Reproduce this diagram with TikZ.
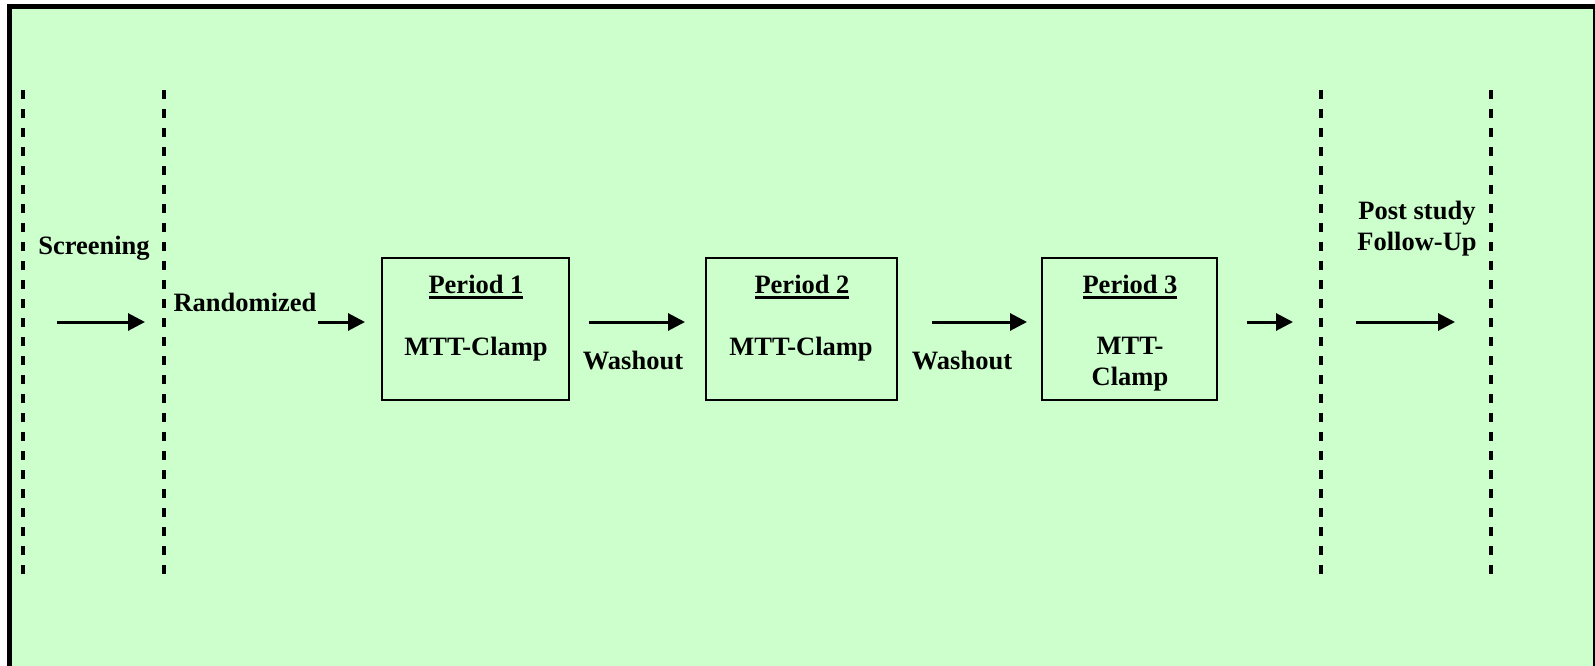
\documentclass[tikz,border=0pt]{standalone}
\usepackage{fontspec}
\setmainfont{Liberation Serif}
\usetikzlibrary{arrows.meta}
\newcommand{\myul}[1]{\setbox0\hbox{#1}\rlap{\rule[-5pt]{\wd0}{2.6pt}}\box0}
\begin{document}
\begin{tikzpicture}[x=1pt,y=-1pt,
  lbl/.style={font=\fontsize{26.5}{31}\selectfont\bfseries, inner sep=0pt, align=center},
  periodbox/.style={draw=black, line width=2pt, inner sep=0pt, fill=none},
  divider/.style={line width=3.2pt, dash pattern=on 9pt off 10pt},
  flow/.style={line width=3pt, -{Triangle[length=17pt,width=17pt]}}]
\useasboundingbox (0,0) rectangle (1595,666);
\fill[white] (0,0) rectangle (1595,666);
\draw[line width=5pt, fill={rgb,255:red,204;green,255;blue,204}] (9,6.5) rectangle (1595.5,700);
% dividers
\coordinate (d1t) at (23,90);  \coordinate (d1b) at (23,580);
\coordinate (d2t) at (164,90); \coordinate (d2b) at (164,580);
\coordinate (d3t) at (1321,90); \coordinate (d3b) at (1321,580);
\coordinate (d4t) at (1491,90); \coordinate (d4b) at (1491,580);
\draw[divider] (d1t) -- (d1b);
\draw[divider] (d2t) -- (d2b);
\draw[divider] (d3t) -- (d3b);
\draw[divider] (d4t) -- (d4b);
% boxes
\node[periodbox, minimum width=187pt, minimum height=142pt] (p1) at (475.5,329) {};
\node[periodbox, minimum width=191pt, minimum height=142pt] (p2) at (801.5,329) {};
\node[periodbox, minimum width=175pt, minimum height=142pt] (p3) at (1129.5,329) {};
\node[lbl] (p1t) at (476,287) {\myul{Period 1}};
\node[lbl] (p1c) at (476,349) {MTT-Clamp};
\node[lbl] (p2t) at (802,287) {\myul{Period 2}};
\node[lbl] (p2c) at (801,349) {MTT-Clamp};
\node[lbl] (p3t) at (1130,287) {\myul{Period 3}};
\node[lbl] (p3c) at (1130,364) {MTT-\\Clamp};
% labels
\node[lbl] (scr) at (94,248) {Screening};
\node[lbl] (rand) at (245,302) {Randomized};
\node[lbl] (w1) at (633,361) {Washout};
\node[lbl] (w2) at (962,361) {Washout};
\node[lbl] (post) at (1417,229) {Post study\\Follow-Up};
% arrows
\coordinate (a1s) at (57,322);  \coordinate (a1e) at (145,322);
\coordinate (a2s) at (318,322); \coordinate (a2e) at (365,322);
\coordinate (a3s) at (589,322); \coordinate (a3e) at (685,322);
\coordinate (a4s) at (932,322); \coordinate (a4e) at (1027,322);
\coordinate (a5s) at (1247,322); \coordinate (a5e) at (1293,322);
\coordinate (a6s) at (1356,322); \coordinate (a6e) at (1455,322);
\draw[flow] (a1s) -- (a1e);
\draw[flow] (a2s) -- (a2e);
\draw[flow] (a3s) -- (a3e);
\draw[flow] (a4s) -- (a4e);
\draw[flow] (a5s) -- (a5e);
\draw[flow] (a6s) -- (a6e);
\end{tikzpicture}
\end{document}
